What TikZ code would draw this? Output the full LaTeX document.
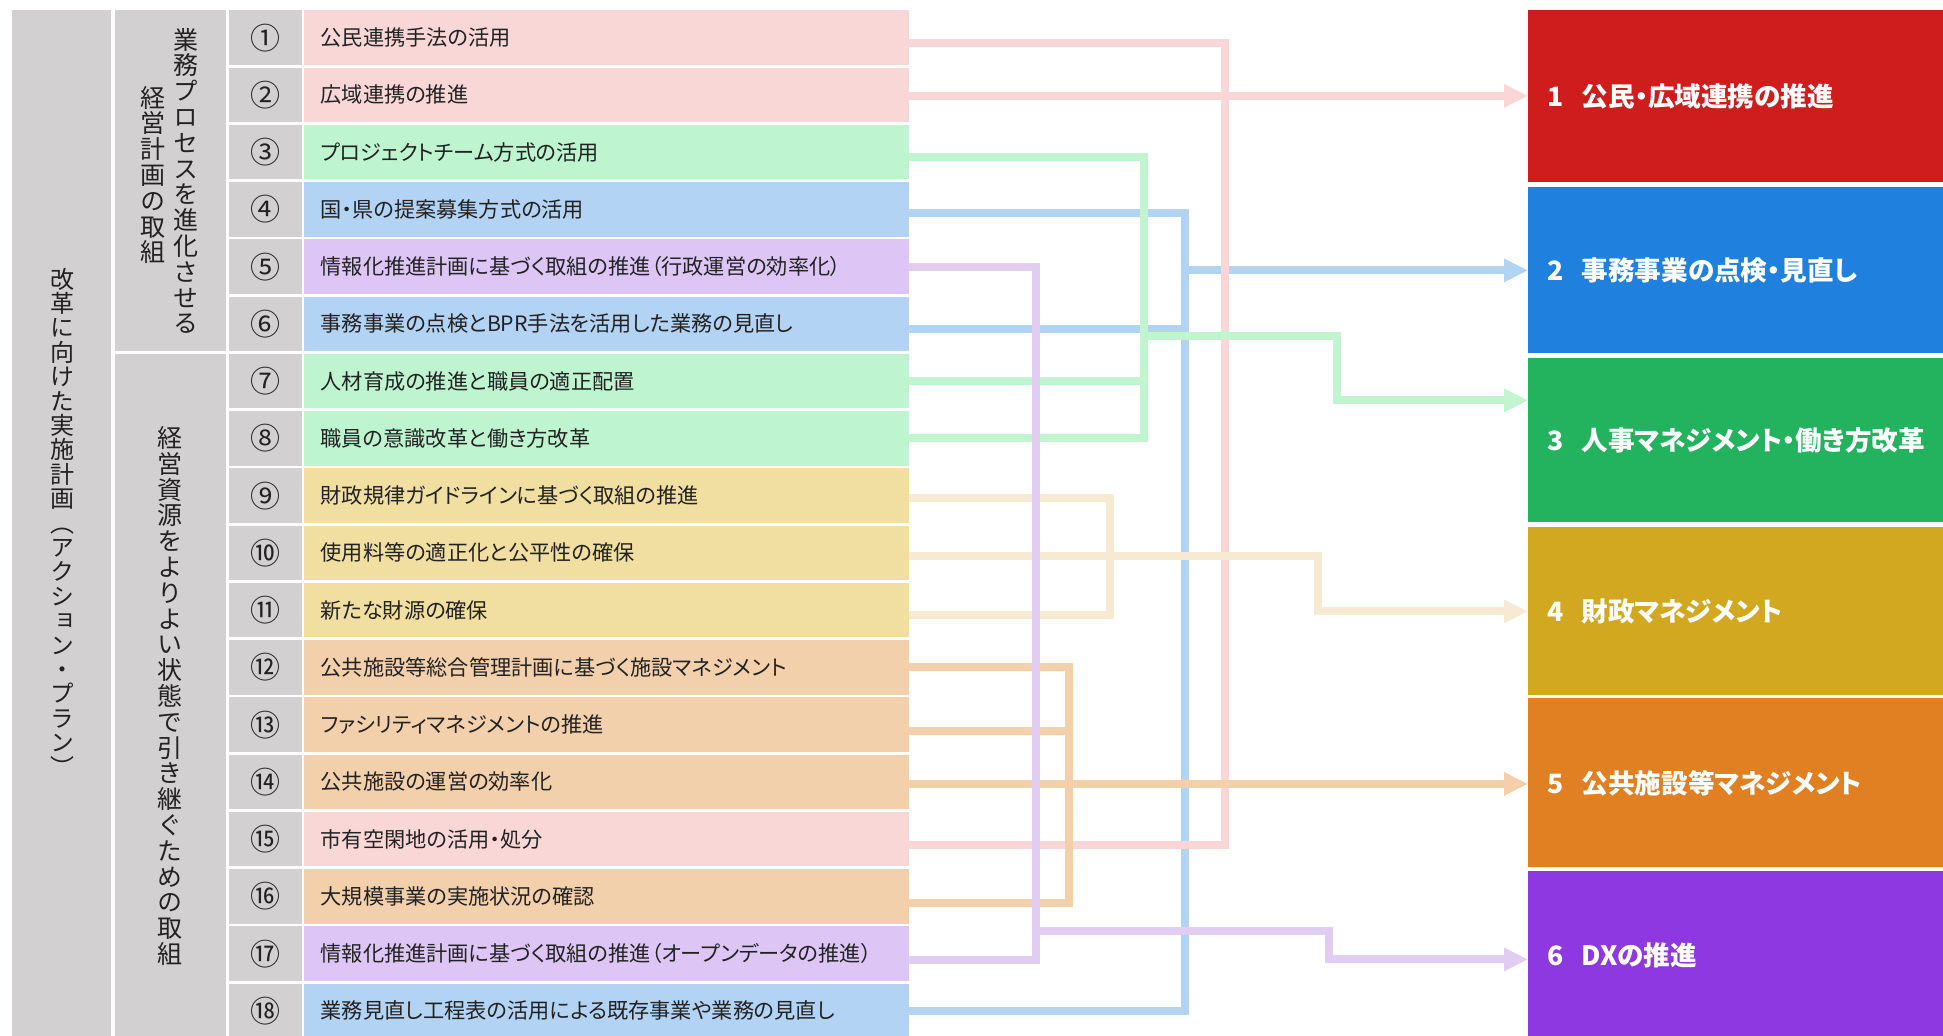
\documentclass[tikz,border=0pt]{standalone}
\usepackage{fontspec}
\usetikzlibrary{arrows.meta}
\newfontfamily\jpp[RawFeature=+palt]{Noto Sans CJK JP}
\newfontfamily\jpn{Noto Sans CJK JP}
\newfontfamily\jpv[RawFeature=+vert]{Noto Sans CJK JP}
\newcommand{\myrowfont}{\jpp\fontsize{10.6pt}{12pt}\selectfont}
\newcommand{\mynumfont}{\jpn\fontsize{15pt}{16pt}\selectfont}
\newcommand{\mygoalfont}{\jpp\bfseries\fontsize{13.3pt}{15pt}\selectfont}
\newcommand{\myvA}{\jpv\fontsize{12pt}{12.2pt}\selectfont\lineskiplimit=-20pt}
\newcommand{\myvB}{\jpv\fontsize{12.5pt}{12.9pt}\selectfont\lineskiplimit=-20pt}
\definecolor{gry}{HTML}{D3D0D1}
\definecolor{txt}{HTML}{222222}
\definecolor{fpk}{HTML}{FAD7D7}
\definecolor{fgr}{HTML}{BEF5D0}
\definecolor{fbl}{HTML}{B2D3F3}
\definecolor{fpu}{HTML}{DDC6F5}
\definecolor{fyl}{HTML}{F1DEA1}
\definecolor{fon}{HTML}{F2D0AB}
\definecolor{lpk}{HTML}{FAD6D7}
\definecolor{lgr}{HTML}{C0F5D0}
\definecolor{lbl}{HTML}{B3D3F3}
\definecolor{lpu}{HTML}{E2CDF2}
\definecolor{lyl}{HTML}{F6EAD3}
\definecolor{lon}{HTML}{F3D0AA}
\definecolor{ga}{HTML}{CF1C1C}
\definecolor{gb}{HTML}{1F80DE}
\definecolor{gc}{HTML}{23B35F}
\definecolor{gd}{HTML}{D1A81F}
\definecolor{ge}{HTML}{E08022}
\definecolor{gf}{HTML}{8D38E0}
\tikzset{
  graybox/.style={fill=gry, draw=none, inner sep=0pt, anchor=north west},
  rowbox/.style={draw=none, inner xsep=8.5pt, inner ysep=0pt, text width=285.5pt, align=left,
    minimum height=27.25pt, anchor=north west, font=\myrowfont, text=txt},
  numbox/.style={fill=gry, draw=none, inner sep=0pt, minimum width=36.4pt, minimum height=27.25pt,
    anchor=north west, font=\mynumfont, text=txt},
  goalbox/.style={draw=none, inner xsep=9.5pt, inner ysep=0pt, text width=205pt, align=left,
    anchor=north west, font=\mygoalfont, text=white},
  vtext/.style={inner sep=0pt, align=center, text=txt},
  ln/.style={line width=4pt},
  arr/.style={-{Triangle[length=12pt,width=11pt]}}
}
\begin{document}
\begin{tikzpicture}[x=0.5pt,y=-0.5pt]
\useasboundingbox (0,0) rectangle (1943,1036);
\fill[white] (0,0) rectangle (1943,1036);
\clip (0,0) rectangle (1943,1036);

% left grey columns
\node[graybox, minimum width=49.6pt, minimum height=515pt] (cA) at (11.7,10) {};
\node[graybox, minimum width=55.4pt, minimum height=170.5pt] (cB) at (114.3,10) {};
\node[graybox, minimum width=55.4pt, minimum height=343.5pt] (cC) at (114.3,353.5) {};

\node[vtext, font=\myvA] (tA) at (62,522) {改\\革\\に\\向\\け\\た\\実\\施\\計\\画\\︵\\ア\\ク\\シ\\ョ\\ン\\・\\プ\\ラ\\ン\\︶};
\node[vtext, font=\myvB] (tB1) at (186,181) {業\\務\\プ\\ロ\\セ\\ス\\を\\進\\化\\さ\\せ\\る};
\node[vtext, font=\myvB] (tB2) at (153,175) {経\\営\\計\\画\\の\\取\\組};
\node[vtext, font=\myvB] (tC) at (170,696) {経\\営\\資\\源\\を\\よ\\り\\よ\\い\\状\\態\\で\\引\\き\\継\\ぐ\\た\\め\\の\\取\\組};

% rows
\foreach \i/\c/\n/\t in {
 1/fpk/①/公民連携手法の活用,
 2/fpk/②/広域連携の推進,
 3/fgr/③/プロジェクトチーム方式の活用,
 4/fbl/④/国・県の提案募集方式の活用,
 5/fpu/⑤/情報化推進計画に基づく取組の推進（行政運営の効率化）,
 6/fbl/⑥/事務事業の点検とBPR手法を活用した業務の見直し,
 7/fgr/⑦/人材育成の推進と職員の適正配置,
 8/fgr/⑧/職員の意識改革と働き方改革,
 9/fyl/⑨/財政規律ガイドラインに基づく取組の推進,
 10/fyl/⑩/使用料等の適正化と公平性の確保,
 11/fyl/⑪/新たな財源の確保,
 12/fon/⑫/公共施設等総合管理計画に基づく施設マネジメント,
 13/fon/⑬/ファシリティマネジメントの推進,
 14/fon/⑭/公共施設の運営の効率化,
 15/fpk/⑮/市有空閑地の活用・処分,
 16/fon/⑯/大規模事業の実施状況の確認,
 17/fpu/⑰/情報化推進計画に基づく取組の推進（オープンデータの推進）,
 18/fbl/⑱/業務見直し工程表の活用による既存事業や業務の見直し}{
  \pgfmathsetmacro\yy{10+(\i-1)*57.25}
  \node[numbox] (n\i) at (228.3,\yy) {\n};
  \node[rowbox, fill=\c] (r\i) at (303.3,\yy) {\t};
}

% goal boxes (extend past the right edge; clipped)
\node[goalbox, fill=ga, minimum height=86pt] (g1) at (1528,10) {1\hspace{9pt}公民・広域連携の推進};
\node[goalbox, fill=gb, minimum height=83pt] (g2) at (1528,187) {2\hspace{9pt}事務事業の点検・見直し};
\node[goalbox, fill=gc, minimum height=82pt] (g3) at (1528,358) {3\hspace{9pt}人事マネジメント・働き方改革};
\node[goalbox, fill=gd, minimum height=84pt] (g4) at (1528,527) {4\hspace{9pt}財政マネジメント};
\node[goalbox, fill=ge, minimum height=84.5pt] (g5) at (1528,698) {5\hspace{9pt}公共施設等マネジメント};
\node[goalbox, fill=gf, minimum height=84pt] (g6) at (1528,871) {6\hspace{9pt}DXの推進};

% bus coordinates
\coordinate (blbus) at (1185,0);
\coordinate (pkbus) at (1225,0);
\coordinate (grbus) at (1144,0);
\coordinate (grk) at (1337,0);
\coordinate (grj) at (1144,336);
\coordinate (tnbus) at (1110,0);
\coordinate (tnk) at (1318,0);
\coordinate (orbus) at (1069,0);
\coordinate (pubus) at (1036,0);
\coordinate (puj) at (1036,931);
\coordinate (puk) at (1329,0);

% blue
\draw[ln,lbl] ([yshift=-2pt]r4.east) -| (r18.east -| blbus) -- (r18.east);
\draw[ln,lbl] ([yshift=-2.75pt]r6.east) -- ([yshift=-2.75pt]r6.east -| blbus);
\draw[ln,lbl,arr] (g2.west -| blbus) -- (g2.west);
% pink
\draw[ln,lpk] ([yshift=-2.9pt]r1.east) -| ([yshift=-3.1pt]r15.east -| pkbus) -- ([yshift=-3.1pt]r15.east);
\draw[ln,lpk,arr] ([yshift=-0.5pt]r2.east) -- ([yshift=-0.5pt]r2.east -| g1.west);
% tan
\draw[ln,lyl] ([yshift=-1.4pt]r9.east) -| ([yshift=-2.6pt]r11.east -| tnbus) -- ([yshift=-2.6pt]r11.east);
\draw[ln,lyl,arr] ([yshift=-1.75pt]r10.east) -| (g4.west -| tnk) -- (g4.west);
% orange
\draw[ln,lon] (r12.east) -| ([yshift=-3.5pt]r16.east -| orbus) -- ([yshift=-3.5pt]r16.east);
\draw[ln,lon] ([yshift=-3.4pt]r13.east) -- ([yshift=-3.4pt]r13.east -| orbus);
\draw[ln,lon,arr] ([yshift=-1pt]r14.east) -- ([yshift=-1pt]r14.east -| g5.west);
% green
\draw[ln,lgr] ([yshift=-2.6pt]r3.east) -| (r8.east -| grbus) -- (r8.east);
\draw[ln,lgr] (r7.east) -- (r7.east -| grbus);
\draw[ln,lgr,arr] (grj) -| ([yshift=20pt]g3.west -| grk) -- ([yshift=20pt]g3.west);
% purple
\draw[ln,lpu] (r5.east) -| ([yshift=-3.4pt]r17.east -| pubus) -- ([yshift=-3.4pt]r17.east);
\draw[ln,lpu,arr] (puj) -| ([yshift=-2pt]g6.west -| puk) -- ([yshift=-2pt]g6.west);
\end{tikzpicture}
\end{document}
